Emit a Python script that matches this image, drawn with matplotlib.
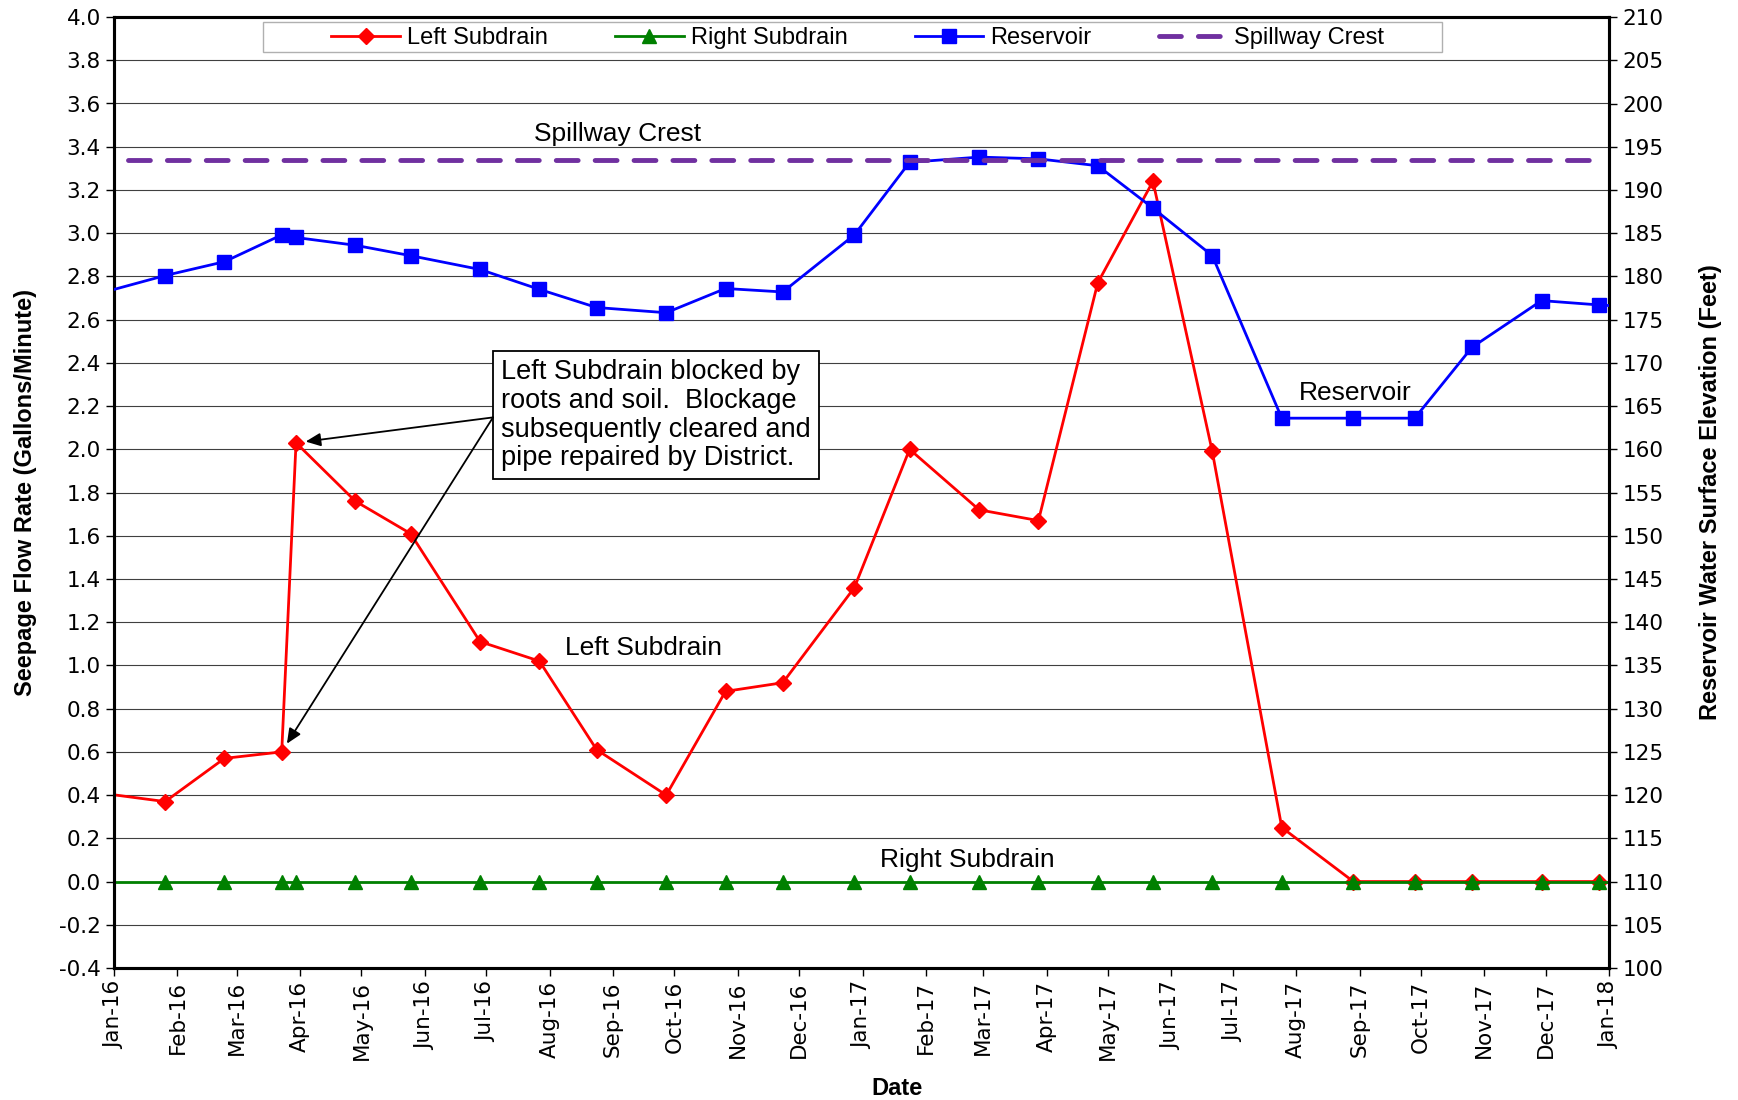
import pandas as pd
import matplotlib

matplotlib.use("Agg")
import matplotlib.pyplot as plt
import matplotlib.dates as mdates
from matplotlib.patches import Rectangle

# Sample dates (one point before the axis start and one after its end, clipped)
dates = pd.to_datetime([
    '2015-12-01', '2016-01-26', '2016-02-24', '2016-03-23', '2016-03-30',
    '2016-04-28', '2016-05-25', '2016-06-28', '2016-07-27', '2016-08-24',
    '2016-09-27', '2016-10-26', '2016-11-23', '2016-12-28', '2017-01-24',
    '2017-02-27', '2017-03-28', '2017-04-26', '2017-05-23', '2017-06-21',
    '2017-07-25', '2017-08-29', '2017-09-28', '2017-10-26', '2017-11-29',
    '2017-12-27', '2018-01-25',
])

left_subdrain = [0.44, 0.37, 0.57, 0.60, 2.03, 1.76, 1.61, 1.11, 1.02, 0.61,
                 0.40, 0.88, 0.92, 1.36, 2.00, 1.72, 1.67, 2.77, 3.24, 1.99,
                 0.25, 0.00, 0.00, 0.00, 0.00, 0.00, None]
right_subdrain = [0.0] * 27
reservoir = [176.5, 180.1, 181.7, 184.8, 184.5, 183.6, 182.4, 180.8, 178.5,
             176.4, 175.8, 178.6, 178.2, 184.8, 193.2, 193.8, 193.6, 192.8,
             187.9, 182.4, 163.6, 163.6, 163.6, 171.8, 177.2, 176.7, 176.3]

spill_dates = pd.to_datetime(['2016-01-08', '2017-12-28'])
spill_elev = [193.5, 193.5]

left = pd.Series(left_subdrain, index=dates, dtype=float).dropna()

sans = ['Liberation Sans', 'DejaVu Sans']

fig = plt.figure(figsize=(17.38, 11), dpi=100)
ax = fig.add_axes([0.0656, 0.12, 0.8602, 0.8645])
ax2 = ax.twinx()

# Left axis series
ax.plot(left.index, left.values, color='#ff0000', lw=2, marker='D', ms=8.5,
        label='Left Subdrain', zorder=3)
ax.plot(dates, right_subdrain, color='#008000', lw=2, marker='^', ms=10,
        label='Right Subdrain', zorder=4)

# Right axis series
ax2.plot(dates, reservoir, color='#0000ff', lw=2, marker='s', ms=10.5,
         label='Reservoir', zorder=3)
ax2.plot(spill_dates, spill_elev, color='#7030a0', lw=3.5, dashes=(4.5, 3.5),
         dash_capstyle='round', label='Spillway Crest', zorder=4)

ax.set_xlim(pd.Timestamp('2016-01-01'), pd.Timestamp('2018-01-01'))
ax.set_ylim(-0.4, 4.0)
ax2.set_ylim(100, 210)
ax.set_yticks([round(-0.4 + 0.2 * i, 1) for i in range(23)])
ax2.set_yticks(range(100, 211, 5))
ax.yaxis.set_major_formatter(matplotlib.ticker.FormatStrFormatter('%.1f'))

ax.xaxis.set_major_locator(mdates.MonthLocator())
ax.xaxis.set_major_formatter(mdates.DateFormatter('%b-%y'))
for lbl in ax.get_xticklabels():
    lbl.set_rotation(90)

ax.grid(axis='y', color='#404040', lw=0.8)
ax.set_axisbelow(True)

for a in (ax, ax2):
    a.tick_params(direction='out', length=6, width=1, labelsize=15.5,
                  colors='black')
    for s in a.spines.values():
        s.set_linewidth(2.2)

ax.set_ylabel('Seepage Flow Rate (Gallons/Minute)', family=sans,
              fontsize=17, fontweight='bold', labelpad=16)
ax2.set_ylabel('Reservoir Water Surface Elevation (Feet)', family=sans,
               fontsize=17, fontweight='bold', rotation=90, labelpad=26)
ax.set_xlabel('Date', family=sans, fontsize=17, fontweight='bold',
              labelpad=12)
ax.xaxis.label.set_x(0.524)

# Legend (frame drawn separately so the entries sit centred with side room)
h1, l1 = ax.get_legend_handles_labels()
h2, l2 = ax2.get_legend_handles_labels()
ax2.add_patch(Rectangle((0.0997, 0.9632), 0.7883, 0.0315,
                        transform=ax.transAxes, fc='white', ec='#b0b0b0',
                        lw=1, zorder=7))
leg = ax2.legend(h1 + h2, l1 + l2, ncol=4, loc='center',
                 bbox_to_anchor=(0.4975, 0.9775), frameon=False,
                 handlelength=2.9, handletextpad=0.3, columnspacing=2.85,
                 borderaxespad=0, borderpad=0,
                 prop={'family': sans, 'size': 17})
leg.set_zorder(8)

# Series labels
lab = dict(family=sans, fontsize=19, ha='center', va='center')
ax.text(pd.Timestamp('2016-09-03'), 3.46, 'Spillway Crest', **lab)
ax.text(pd.Timestamp('2016-09-16'), 1.08, 'Left Subdrain', **lab)
ax.text(pd.Timestamp('2017-08-30'), 2.26, 'Reservoir', **lab)
ax.text(pd.Timestamp('2017-02-21'), 0.10, 'Right Subdrain', **lab)

# Note box with arrows
note = ('Left Subdrain blocked by\nroots and soil.  Blockage\n'
        'subsequently cleared and\npipe repaired by District.')
ax2.text(0.2590, 0.6400, note, transform=ax.transAxes, ha='left', va='top',
         family=sans, fontsize=19.5, linespacing=1.13, zorder=6,
         bbox=dict(boxstyle='square,pad=0.3', fc='white', ec='black', lw=1.3))
arrow = dict(arrowstyle='-|>,head_length=0.9,head_width=0.4', color='black',
             lw=1.3, shrinkA=0, shrinkB=7)
ax2.annotate('', xy=(mdates.date2num(dates[4]), left_subdrain[4]),
             xycoords=ax.transData, xytext=(0.2535, 0.579),
             textcoords=ax.transAxes, arrowprops=arrow, zorder=6)
ax2.annotate('', xy=(mdates.date2num(dates[3]), left_subdrain[3]),
             xycoords=ax.transData, xytext=(0.2535, 0.579),
             textcoords=ax.transAxes, arrowprops=arrow, zorder=6)

plt.savefig('out.png', dpi=100)
